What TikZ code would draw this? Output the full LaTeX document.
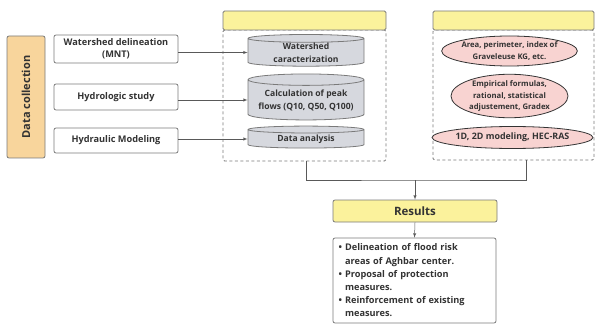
\documentclass[tikz,border=0pt]{standalone}
\usepackage{fontspec}
\setmainfont{Open Sans}
\usetikzlibrary{shapes.geometric}
\definecolor{linegray}{HTML}{7A7A7A}
\definecolor{textgray}{HTML}{333333}
\definecolor{orangefill}{HTML}{F8D59C}
\definecolor{yellowfill}{HTML}{FBF29C}
\definecolor{pinkfill}{HTML}{F8D3D1}
\definecolor{cylfill}{HTML}{D6D8DE}
\tikzset{
    inbox/.style={draw=linegray, rounded corners=2pt, fill=white, line width=.08em, text=textgray,
        font=\bfseries\fontsize{9.2}{12}\selectfont, align=center, inner sep=0pt},
    cyl/.style={cylinder, shape border rotate=90, shape aspect=.12, draw=linegray, fill=cylfill,
        line width=.08em, text=textgray, font=\bfseries\fontsize{8.6}{13}\selectfont, align=center, inner sep=0pt},
    oval/.style={ellipse, draw=textgray, fill=pinkfill, line width=.08em, text=textgray,
        font=\bfseries\fontsize{7.7}{11.5}\selectfont, align=center, inner sep=0pt},
    group/.style={draw=linegray, dash pattern=on 3pt off 2.5pt, line width=.08em, rounded corners=1.5pt},
    header/.style={draw=linegray, fill=yellowfill, line width=.08em, rounded corners=1.5pt},
    flow/.style={draw=black!65, line width=.05em}
}
\begin{document}
\begin{tikzpicture}[x=1pt, y=-1pt]
    \useasboundingbox (0,0) rectangle (597,326);
    % data collection
    \node[inbox, fill=orangefill, minimum width=38pt, minimum height=122pt] (collect) at (26,97) {};
    \node[rotate=90, text=textgray, font=\bfseries\fontsize{11}{13}\selectfont] (collecttext) at (collect) {Data collection};
    % dashed groups with headers
    \node[group, minimum width=163pt, minimum height=131pt] (groupL) at (304.5,95.5) {};
    \node[group, minimum width=161pt, minimum height=130pt] (groupR) at (513.5,95) {};
    \node[header, minimum width=163pt, minimum height=19pt] (headL) at (304.5,20.5) {};
    \node[header, minimum width=161pt, minimum height=19pt] (headR) at (513.5,20.5) {};
    \foreach \y/\h/\txt [count=\xi] in {49/28/{Watershed delineation\\(MNT)}, 97/26/{Hydrologic study}, 140.5/25/{Hydraulic Modeling}}
        {
            \node[inbox, minimum width=124pt, minimum height=\h pt] (input\xi) at (116,\y) {\txt};
        }
    \foreach \y/\h/\txt [count=\xi] in {52.5/31/{Watershed\\caracterization}, 100/46/{Calculation of peak\\flows (Q10, Q50, Q100)}, 139/22/{Data analysis}}
        {
            \node[cyl, minimum width=116pt, minimum height=\h pt] (cyl\xi) at (306,\y) {\txt};
            \draw[flow, -latex] (input\xi.east |- cyl\xi.west) -- (cyl\xi.west);
        }
    \foreach \x/\y/\w/\h/\txt [count=\xi] in {509.5/51/117/30/{Area, perimeter, index of\\Graveleuse KG, etc.}, 509.5/96/117/38/{Empirical formulas,\\rational, statistical\\adjustement, Gradex}}
        {
            \node[oval, minimum width=\w pt, minimum height=\h pt] (method\xi) at (\x,\y) {\txt};
        }
    \node[oval, minimum width=131pt, minimum height=22pt, font=\bfseries\fontsize{8.9}{11}\selectfont] (method3) at (512.5,137.5) {1D, 2D modeling, HEC-RAS};
    % results
    \node[inbox, fill=yellowfill, minimum width=164pt, minimum height=22pt, font=\bfseries\fontsize{11.5}{13}\selectfont] (results) at (415,211) {Results};
    \node[inbox, minimum width=163pt, minimum height=85pt, align=left, text width=152pt,
        font=\bfseries\fontsize{9.2}{13.2}\selectfont] (outcome) at (414.5,280.5)
        {\textbullet~Delineation of flood risk\\\phantom{\textbullet~}areas of Aghbar center.\\
         \textbullet~Proposal of protection\\\phantom{\textbullet~}measures.\\
         \textbullet~Reinforcement of existing\\\phantom{\textbullet~}measures.};
    \coordinate (join) at (415,180);
    \draw[flow] ([xshift=1.5pt]groupL.south) |- (join) -| ([xshift=12.5pt]groupR.south);
    \draw[flow, -latex] (join) -- (results.north);
    \draw[flow, -latex] (results.south) -- (outcome.north);
\end{tikzpicture}
\end{document}
